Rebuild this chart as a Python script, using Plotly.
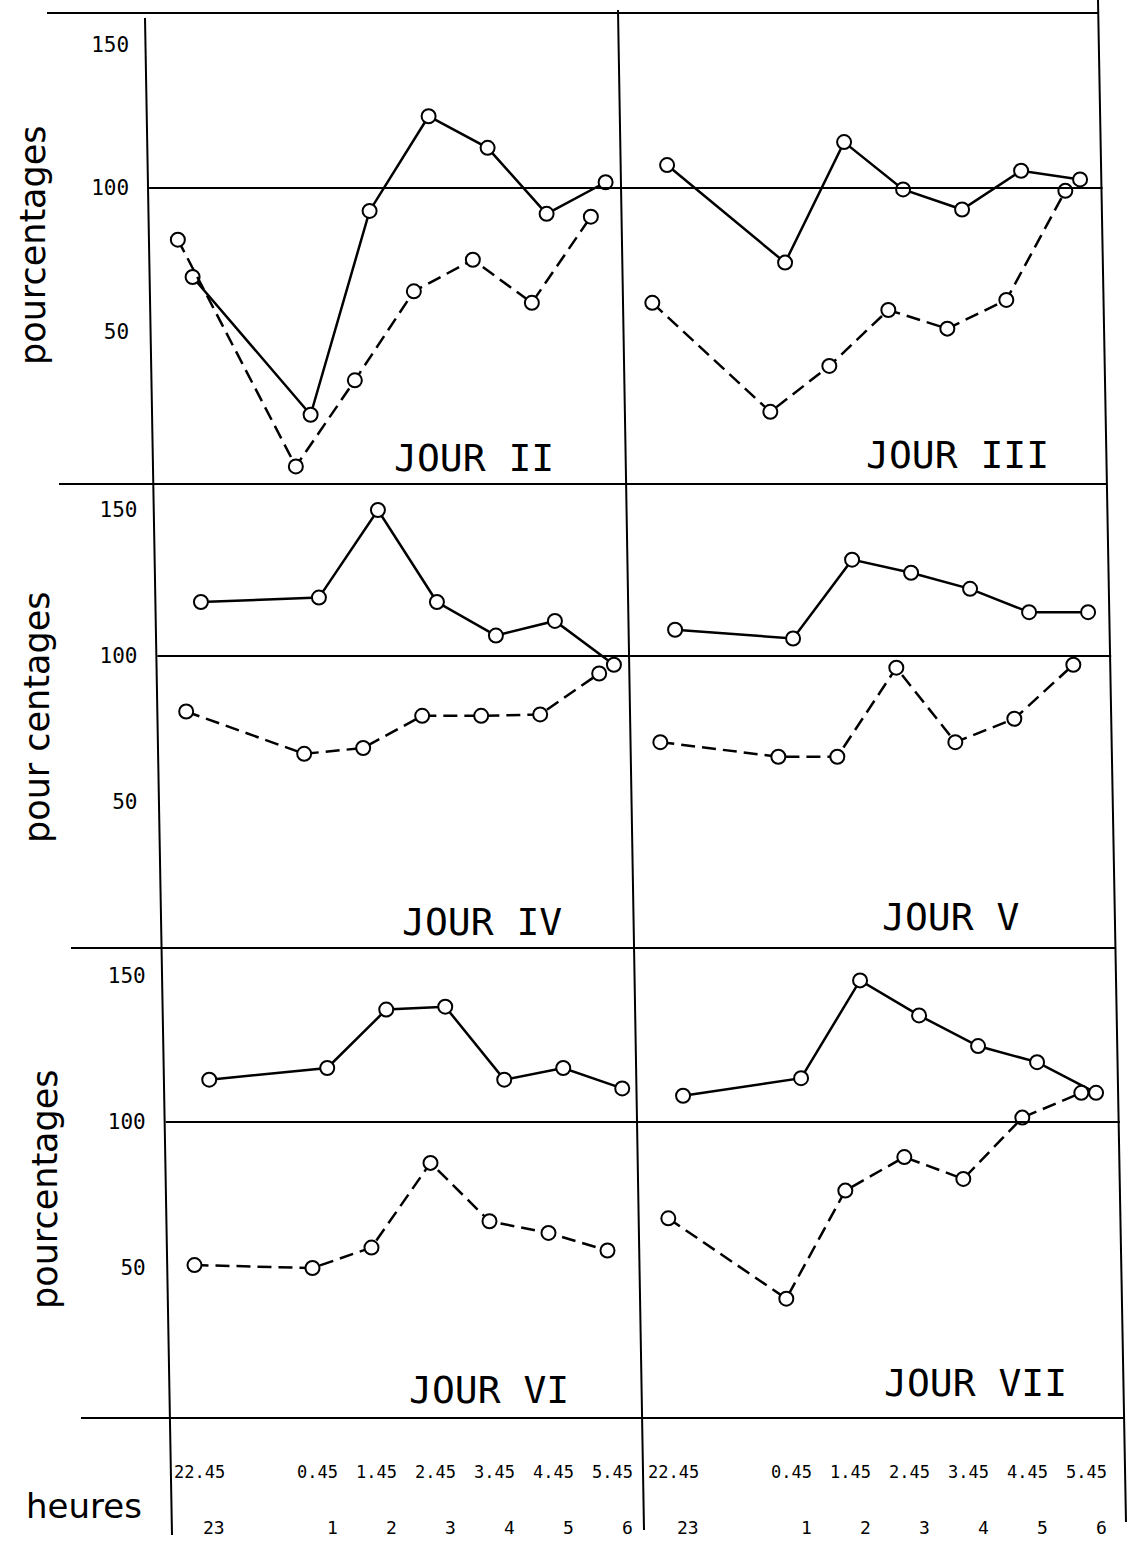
import plotly.graph_objects as go

# Sampling times in hours (after midnight counted as 24+h)
hours_solid = [23, 25, 26, 27, 28, 29, 30]                    # 23h, 1h ... 6h
hours_dashed = [22.75, 24.75, 25.75, 26.75, 27.75, 28.75, 29.75]  # 22.45, 0.45 ... 5.45

# Percentages per night (solid = full hours, dashed = quarter to)
jour_ii_solid = [69, 21, 92, 125, 114, 91, 102]
jour_ii_dashed = [82, 3, 33, 64, 75, 60, 90]
jour_iii_solid = [108, 74, 116, 99.5, 92.5, 106, 103]
jour_iii_dashed = [60, 22, 38, 57.5, 51, 61, 99]
jour_iv_solid = [118.5, 120, 150, 118.5, 107, 112, 97]
jour_iv_dashed = [81, 66.5, 68.5, 79.5, 79.5, 80, 94]
jour_v_solid = [109, 106, 133, 128.5, 123, 115, 115]
jour_v_dashed = [70.5, 65.5, 65.5, 96, 70.5, 78.5, 97]
jour_vi_solid = [114.5, 118.5, 138.5, 139.5, 114.5, 118.5, 111.5]
jour_vi_dashed = [51, 50, 57, 86, 66, 62, 56]
jour_vii_solid = [109, 115, 148.5, 136.5, 126, 120.5, 110]
jour_vii_dashed = [67, 39.5, 76.5, 88, 80.5, 101.5, 110]

panel_titles = ["JOUR II", "JOUR III", "JOUR IV", "JOUR V", "JOUR VI", "JOUR VII"]
y_tick_values = [50, 100, 150]
y_tick_labels = ["50", "100", "150"]
label_times_top = hours_dashed
label_text_top = ["22.45", "0.45", "1.45", "2.45", "3.45", "4.45", "5.45"]
label_times_bottom = hours_solid
label_text_bottom = ["23", "1", "2", "3", "4", "5", "6"]
y_titles = ["pourcentages", "pour centages", "pourcentages"]

panels = [
    (jour_ii_solid, jour_ii_dashed),
    (jour_iii_solid, jour_iii_dashed),
    (jour_iv_solid, jour_iv_dashed),
    (jour_v_solid, jour_v_dashed),
    (jour_vi_solid, jour_vi_dashed),
    (jour_vii_solid, jour_vii_dashed),
]

# ---- page geometry (pixels) ----
W, H = 1128, 1541


def fx(p):
    return p / W


def fy(p):
    return 1 - p / H


ROWS = [(13, 484), (484, 948), (948, 1418)]
ROW_Y100 = [188, 656, 1122]
ROW_SCALE = [2.87, 2.92, 2.92]   # pixels per percentage point
PX_PER_HOUR = 59.0


def axis_x(y):      # left frame line (slightly tilted)
    return 145 + (y - 18) * 27 / 1517


def divider_x(y):   # middle frame line
    return 618 + (y - 10) * 26 / 1520


def edge_x(y):      # right frame line
    return 1098 + y * 28 / 1520


INK = "black"
fig = go.Figure()
layout_axes = {}
shapes = []

for i, (solid, dashed) in enumerate(panels):
    r, c = divmod(i, 2)
    top, bot = ROWS[r]
    yc = (top + bot) / 2
    if c == 0:
        x_left, x_right = axis_x(yc), divider_x(yc)
        x_start = 23 - 43.5 / PX_PER_HOUR
    else:
        x_left, x_right = divider_x(yc), edge_x(yc)
        x_start = 23 - 45 / PX_PER_HOUR
    x_end = x_start + (x_right - x_left) / PX_PER_HOUR
    y100, s = ROW_Y100[r], ROW_SCALE[r]
    y_lo = 100 - (bot - y100) / s
    y_hi = 100 + (y100 - top) / s

    n = "" if i == 0 else str(i + 1)
    layout_axes["xaxis" + n] = dict(
        domain=[fx(x_left), fx(x_right)], range=[x_start, x_end],
        anchor="y" + n, visible=False, fixedrange=True)
    ycfg = dict(
        domain=[fy(bot), fy(top)], range=[y_lo, y_hi], anchor="x" + n,
        showgrid=False, zeroline=False, showline=False, ticks="",
        fixedrange=True)
    if c == 0:
        ycfg.update(tickvals=y_tick_values, ticktext=y_tick_labels,
                    tickfont=dict(family="DejaVu Sans Mono", size=21, color=INK),
                    ticklabelstandoff=19)
    else:
        ycfg.update(showticklabels=False)
    layout_axes["yaxis" + n] = ycfg

    for xs, ys, dash in ((hours_solid, solid, "solid"),
                         (hours_dashed, dashed, "14px,7px")):
        fig.add_trace(go.Scatter(
            x=xs, y=ys, xaxis="x" + n, yaxis="y" + n,
            mode="lines+markers",
            line=dict(color=INK, width=2.5, dash=dash),
            marker=dict(symbol="circle", size=14, color="white",
                        line=dict(color=INK, width=2)),
            cliponaxis=False, showlegend=False, hoverinfo="skip"))

    # 100 % reference line across the panel
    shapes.append(dict(
        type="line", xref="paper", yref="y" + n,
        x0=fx(x_left), x1=fx(x_right), y0=100, y1=100,
        line=dict(color=INK, width=2)))

# frame: tilted vertical lines and horizontal row separators
for (x0, y0, x1, y1) in [(145, 18, 172, 1535), (618, 10, 644, 1530),
                         (1098, 0, 1126, 1522)]:
    shapes.append(dict(type="line", xref="paper", yref="paper",
                       x0=fx(x0), y0=fy(y0), x1=fx(x1), y1=fy(y1),
                       line=dict(color=INK, width=2)))
for (xs, y) in [(47, 13), (59, 484), (71, 948), (81, 1418)]:
    shapes.append(dict(type="line", xref="paper", yref="paper",
                       x0=fx(xs), x1=fx(edge_x(y)), y0=fy(y), y1=fy(y),
                       line=dict(color=INK, width=2)))

annotations = []
# panel titles
title_pos = [(474, 458), (957, 455), (482, 922), (950, 917), (489, 1390), (975, 1383)]
for t, (x, y) in zip(panel_titles, title_pos):
    annotations.append(dict(text=t, x=fx(x), y=fy(y), xref="paper", yref="paper",
                            showarrow=False, xanchor="center", yanchor="middle",
                            font=dict(family="DejaVu Sans Mono", size=38, color=INK)))

# vertical axis titles
for t, (x, y) in zip(y_titles, [(33, 245), (37, 718), (45, 1189)]):
    annotations.append(dict(text=t, x=fx(x), y=fy(y), xref="paper", yref="paper",
                            showarrow=False, textangle=-90,
                            xanchor="center", yanchor="middle",
                            font=dict(family="DejaVu Sans", size=35, color=INK)))

# time labels under the bottom row, placed on the bottom panels' time axes
for xa in ("x5", "x6"):
    for t, lab in zip(label_times_top, label_text_top):
        annotations.append(dict(text=lab, x=t, y=fy(1472), xref=xa, yref="paper",
                                showarrow=False, xanchor="center", yanchor="middle",
                                xshift=5,
                                font=dict(family="DejaVu Sans Mono", size=17, color=INK)))
    for t, lab in zip(label_times_bottom, label_text_bottom):
        annotations.append(dict(text=lab, x=t, y=fy(1527), xref=xa, yref="paper",
                                showarrow=False, xanchor="center", yanchor="middle",
                                xshift=5,
                                font=dict(family="DejaVu Sans Mono", size=18, color=INK)))

annotations.append(dict(text="heures", x=fx(84), y=fy(1506), xref="paper", yref="paper",
                        showarrow=False, xanchor="center", yanchor="middle",
                        font=dict(family="DejaVu Sans", size=34, color=INK)))

fig.update_layout(
    width=W, height=H, autosize=False,
    margin=dict(l=0, r=0, t=0, b=0, pad=0),
    paper_bgcolor="white", plot_bgcolor="rgba(0,0,0,0)",
    shapes=shapes, annotations=annotations, showlegend=False,
    **layout_axes)

fig.write_html("out.html", config={"displayModeBar": False})
